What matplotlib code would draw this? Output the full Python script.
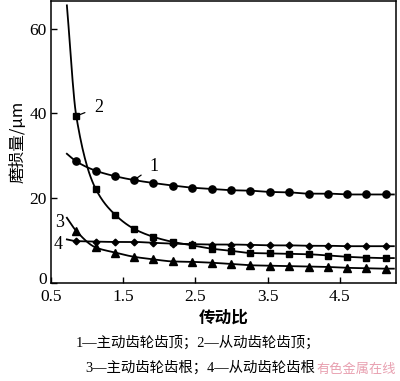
import numpy as np
import matplotlib.pyplot as plt
from matplotlib.transforms import ScaledTranslation

plt.rcParams['font.family'] = ['Liberation Serif', 'Noto Sans CJK SC']
plt.rcParams['mathtext.fontset'] = 'stix'

# transmission ratio at the markers
ratio = [0.85, 1.12, 1.39, 1.65, 1.92, 2.19, 2.46, 2.73, 3.00,
         3.26, 3.53, 3.80, 4.07, 4.34, 4.60, 4.87, 5.14]

wear_drive_tip = [28.7, 26.5, 25.2, 24.3, 23.6, 23.0, 22.5, 22.2, 21.9,
                  21.8, 21.5, 21.4, 21.1, 21.1, 20.9, 20.9, 20.9]
wear_driven_tip = [39.4, 22.2, 16.1, 12.8, 10.9, 9.7, 8.9, 8.1, 7.6,
                   7.1, 7.0, 6.9, 6.8, 6.5, 6.2, 6.0, 5.9]
wear_drive_root = [12.3, 8.4, 7.2, 6.2, 5.6, 5.1, 5.0, 4.8, 4.5,
                   4.2, 4.1, 4.0, 3.9, 3.8, 3.6, 3.5, 3.4]
wear_driven_root = [9.9, 9.8, 9.7, 9.7, 9.5, 9.3, 9.2, 9.1, 9.1,
                    9.0, 8.9, 8.9, 8.8, 8.8, 8.7, 8.7, 8.7]

# where each fitted curve begins / ends (left end beyond first marker)
curve_x0, curve_x1 = 0.72, 5.25
curve_start = [30.5, 65.5, 15.4, 10.3]

series = [wear_drive_tip, wear_driven_tip, wear_drive_root, wear_driven_root]
markers = ['o', 's', '^', 'D']
msizes = [5.2, 5, 5.2, 3.4]


def pchip(x, y, xs):
    # monotone cubic, only used to draw the smooth line through the points
    x = np.asarray(x, float)
    y = np.asarray(y, float)
    h = np.diff(x)
    d = np.diff(y) / h
    m = np.zeros_like(y)
    for k in range(1, len(y) - 1):
        if d[k - 1] * d[k] > 0:
            w1 = 2 * h[k] + h[k - 1]
            w2 = h[k] + 2 * h[k - 1]
            m[k] = (w1 + w2) / (w1 / d[k - 1] + w2 / d[k])
    m[0] = d[0]
    m[-1] = d[-1]
    idx = np.clip(np.searchsorted(x, xs) - 1, 0, len(x) - 2)
    t = (xs - x[idx]) / h[idx]
    h00 = 2 * t**3 - 3 * t**2 + 1
    h10 = t**3 - 2 * t**2 + t
    h01 = -2 * t**3 + 3 * t**2
    h11 = t**3 - t**2
    return (h00 * y[idx] + h10 * h[idx] * m[idx]
            + h01 * y[idx + 1] + h11 * h[idx] * m[idx + 1])


fig = plt.figure(figsize=(4.0, 3.81), dpi=100)
ax = fig.add_axes([0.1275, 0.257, 0.8625, 0.740])

for ys, y0, mk, ms in zip(series, curve_start, markers, msizes):
    cx = [curve_x0] + ratio + [curve_x1]
    cy = [y0] + ys + [ys[-1]]
    xs = np.linspace(curve_x0, curve_x1, 400)
    ax.plot(xs, pchip(cx, cy, xs), color='black', lw=1.3)
    ax.plot(ratio, ys, linestyle='none', marker=mk, color='black',
            markersize=ms)

# curve labels with leader lines
ax.annotate('2', xy=(ratio[0], wear_driven_tip[0]), xytext=(1.16, 41.5),
            fontsize=13, ha='center', va='center',
            arrowprops=dict(arrowstyle='-', color='black', lw=0.9,
                            shrinkA=5, shrinkB=1))
ax.annotate('1', xy=(ratio[3], wear_drive_tip[3]), xytext=(1.93, 27.6),
            fontsize=13, ha='center', va='center',
            arrowprops=dict(arrowstyle='-', color='black', lw=0.9,
                            shrinkA=5, shrinkB=1))
ax.text(0.62, 14.4, '3', fontsize=13, ha='center', va='center')
ax.text(0.6, 9.0, '4', fontsize=13, ha='center', va='center')

ax.set_xlim(0.5, 5.28)
ax.set_ylim(0, 66.5)
ax.set_xticks([0.5, 1.5, 2.5, 3.5, 4.5])
ax.set_xticklabels(['0.5', '1.5', '2.5', '3.5', '4.5'])
ax.set_yticks([0, 20, 40, 60])
ax.tick_params(direction='in', length=4, width=1, labelsize=12.5,
               pad=3)
ax.tick_params(axis='x', pad=4)
for sp in ax.spines.values():
    sp.set_linewidth(1.1)

# the "0" sits a little higher in the original
zero_lab = ax.get_yticklabels()[0]
zero_lab.set_transform(zero_lab.get_transform()
                       + ScaledTranslation(0, 4 / 72, fig.dpi_scale_trans))

ax.set_ylabel('磨损量/μm', fontsize=12, labelpad=2,
              family=['Noto Sans CJK SC', 'DejaVu Sans'])
ax.set_xlabel('传动比', fontsize=12, fontweight='bold', labelpad=3,
              family=['Noto Sans CJK SC', 'DejaVu Sans'])

fig.text(0.495, 0.1, '1—主动齿轮齿顶；2—从动齿轮齿顶；', ha='center',
         va='center', fontsize=10.4,
         family=['Liberation Serif', 'Noto Sans CJK SC'])
fig.text(0.5, 0.034, '3—主动齿轮齿根；4—从动齿轮齿根', ha='center',
         va='center', fontsize=10.4,
         family=['Liberation Serif', 'Noto Sans CJK SC'])
fig.text(0.99, 0.03, '有色金属在线', ha='right', va='center',
         fontsize=9.5, color='#e8a0b0',
         family=['Noto Sans CJK SC', 'DejaVu Sans'])

fig.savefig('out.png', dpi=100)
